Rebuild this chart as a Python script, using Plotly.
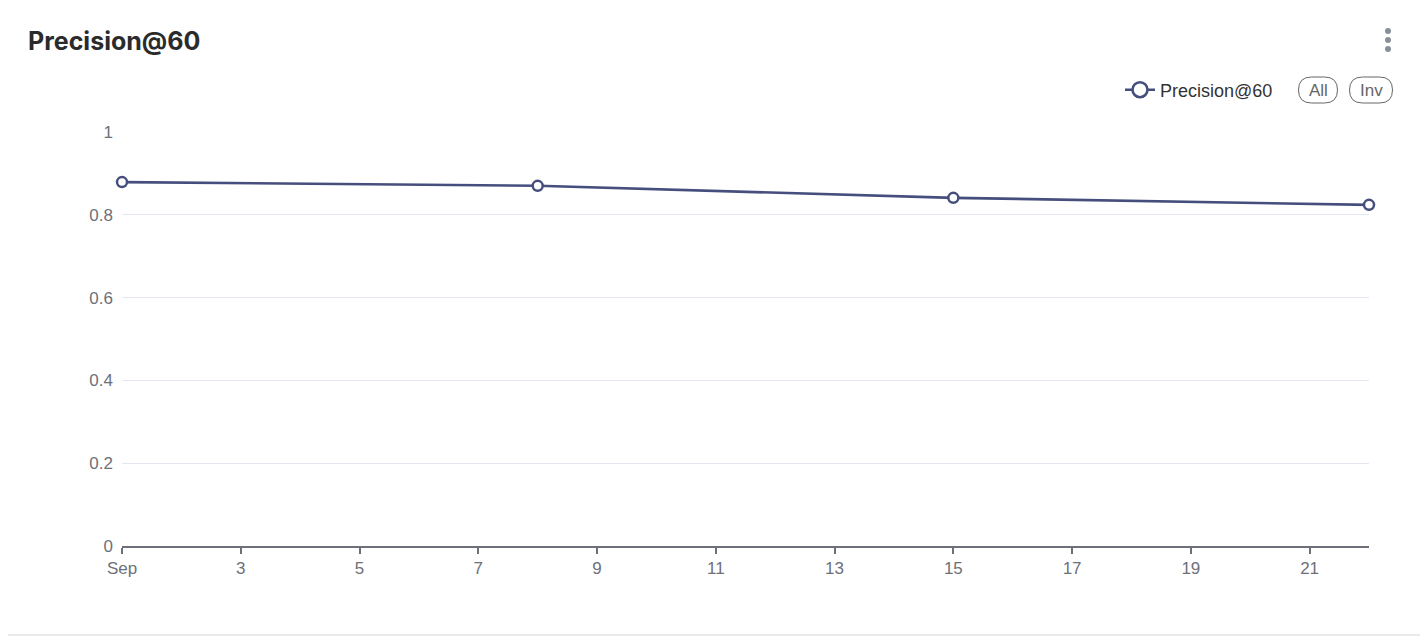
import plotly.graph_objects as go

# ---- data ----
dates = ["2023-09-01", "2023-09-08", "2023-09-15", "2023-09-22"]
precision = [0.879, 0.870, 0.841, 0.824]
series_name = "Precision@60"
x_tickvals = ["2023-09-01", "2023-09-03", "2023-09-05", "2023-09-07", "2023-09-09",
              "2023-09-11", "2023-09-13", "2023-09-15", "2023-09-17", "2023-09-19", "2023-09-21"]
x_ticktext = ["Sep", "3", "5", "7", "9", "11", "13", "15", "17", "19", "21"]
y_tickvals = [0, 0.2, 0.4, 0.6, 0.8, 1]
y_ticktext = ["0", "0.2", "0.4", "0.6", "0.8", "1"]

OFF = 8  # page body margin
W, H = 1428 - OFF, 638 - OFF
# plot area in reference pixels
L_REF, R_REF, T_REF, B_REF = 122, 1369, 132, 546
ML, MR, MT, MB = L_REF - OFF, W - (R_REF - OFF), T_REF - OFF, H - (B_REF - OFF)
PW, PH = W - ML - MR, H - MT - MB

def px_x(p):  # reference pixel -> paper x
    return (p - OFF - ML) / PW

def px_y(p):  # reference pixel -> paper y
    return (H - MB - (p - OFF)) / PH

line_color = "#464e7d"
axis_grey = "#6e7079"

fig = go.Figure()
fig.add_trace(go.Scatter(
    x=dates, y=precision, name=series_name, mode="lines+markers", showlegend=False,
    cliponaxis=False,
    line=dict(color=line_color, width=2.6),
    marker=dict(symbol="circle", size=10, color="white",
                line=dict(color=line_color, width=2.5)),
))
# legend entry (larger symbol, like the reference legend)
fig.add_trace(go.Scatter(
    x=[None], y=[None], name=series_name, mode="lines+markers", showlegend=True,
    line=dict(color=line_color, width=2.6),
    marker=dict(symbol="circle", size=15, color="white",
                line=dict(color=line_color, width=2.6)),
))

def rounded_rect(w, h, r):
    return (f"M {r},0 L {w-r},0 Q {w},0 {w},{r} L {w},{h-r} Q {w},{h} {w-r},{h} "
            f"L {r},{h} Q 0,{h} 0,{h-r} L 0,{r} Q 0,0 {r},0 Z")

shapes = []
# card border (right and bottom edges visible)
shapes.append(dict(type="path", xref="paper", yref="paper", xsizemode="pixel", ysizemode="pixel",
                   xanchor=px_x(1425), yanchor=px_y(635),
                   path="M 0,700 L 0,5 Q 0,0 -5,0 L -1500,0",
                   line=dict(color="#e4e4e4", width=1.5), layer="below"))
# pill buttons
for cx, w in [(1318, 39), (1371, 43)]:
    shapes.append(dict(type="path", xref="paper", yref="paper", xsizemode="pixel", ysizemode="pixel",
                       xanchor=px_x(cx - w / 2), yanchor=px_y(103),
                       path=rounded_rect(w, 26, 13),
                       line=dict(color="#666666", width=1), fillcolor="rgba(0,0,0,0)"))
# menu dots
for cy in [31, 40, 49]:
    shapes.append(dict(type="circle", xref="paper", yref="paper", xsizemode="pixel", ysizemode="pixel",
                       xanchor=px_x(1388), yanchor=px_y(cy),
                       x0=-3, x1=3, y0=-3, y1=3,
                       line=dict(width=0), fillcolor="#8a9097"))

annotations = [
    dict(text="<b>Precision@60</b>", xref="paper", yref="paper", x=px_x(26), y=px_y(41),
         xanchor="left", yanchor="middle", showarrow=False,
         font=dict(family="Inter, Noto Sans, sans-serif", size=25, color="#2b2b2b")),
    dict(text="All", xref="paper", yref="paper", x=px_x(1318), y=px_y(90),
         xanchor="center", yanchor="middle", showarrow=False,
         font=dict(family="Liberation Sans, Arial, sans-serif", size=17, color="#666666")),
    dict(text="Inv", xref="paper", yref="paper", x=px_x(1371), y=px_y(90),
         xanchor="center", yanchor="middle", showarrow=False,
         font=dict(family="Liberation Sans, Arial, sans-serif", size=17, color="#666666")),
]

fig.update_layout(
    width=W, height=H,
    margin=dict(l=ML, r=MR, t=MT, b=MB, pad=0),
    paper_bgcolor="white", plot_bgcolor="white",
    font=dict(family="Liberation Sans, Arial, sans-serif", size=16, color=axis_grey),
    showlegend=True,
    legend=dict(x=px_x(1120), y=px_y(90), xanchor="left", yanchor="middle",
                orientation="h", bgcolor="rgba(0,0,0,0)",
                font=dict(family="Liberation Sans, Arial, sans-serif", size=18, color="#333333"),
                itemwidth=30),
    xaxis=dict(type="date", range=["2023-09-01", "2023-09-22"],
               tickvals=x_tickvals, ticktext=x_ticktext,
               showgrid=False, showline=True, linecolor=axis_grey, linewidth=1.5,
               ticks="outside", ticklen=6, tickcolor=axis_grey, tickwidth=1.5,
               tickfont=dict(size=17, color=axis_grey), zeroline=False, fixedrange=True),
    yaxis=dict(range=[0, 1], tickvals=y_tickvals, ticktext=y_ticktext,
               showgrid=True, gridcolor="#e3e6f0", gridwidth=1,
               showline=False, zeroline=False, ticks="", ticklabelstandoff=8,
               tickfont=dict(size=17, color=axis_grey), fixedrange=True),
    shapes=shapes,
    annotations=annotations,
)

fig.write_html("out.html")
